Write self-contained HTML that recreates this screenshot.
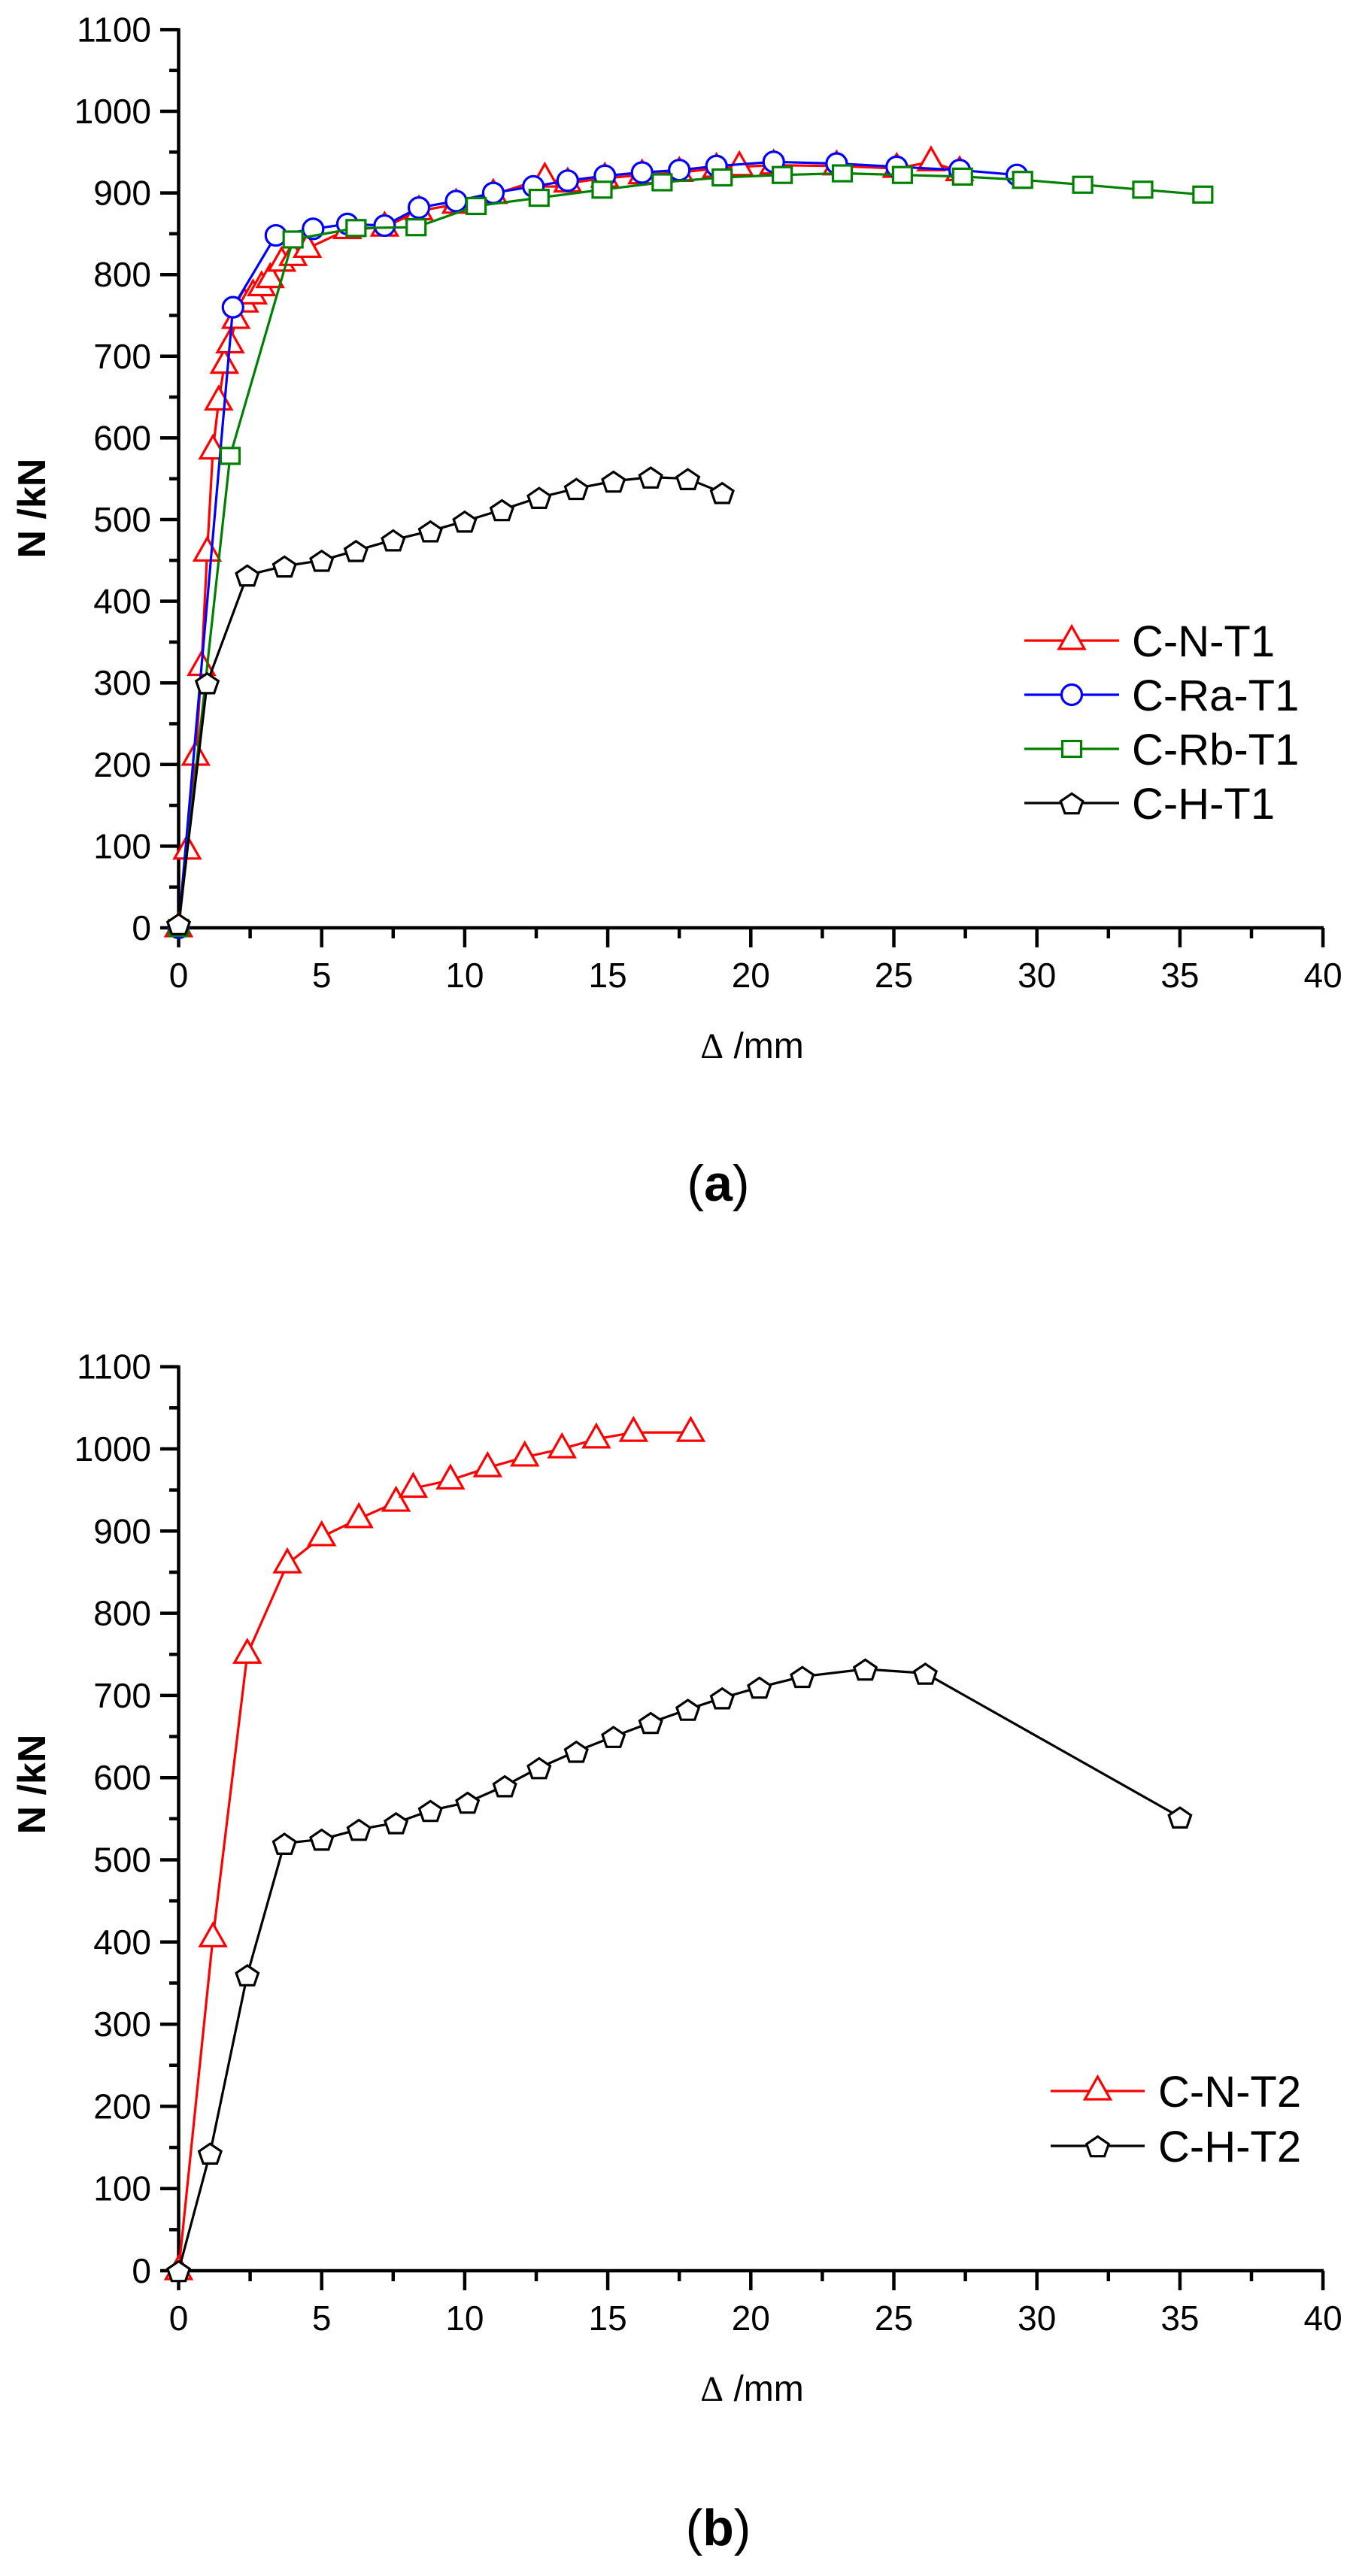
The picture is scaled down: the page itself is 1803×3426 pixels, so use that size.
<!DOCTYPE html>
<html><head><meta charset="utf-8"><style>
html,body{margin:0;padding:0;background:#fff}
svg{display:block}
text{font-family:"Liberation Sans",Arial,sans-serif}
</style></head><body>
<svg id="s" width="1803" height="3426" viewBox="0 0 1803 3426" xmlns="http://www.w3.org/2000/svg">
<rect width="1803" height="3426" fill="#fff"/>
<g id="g"></g>
<text x="1000" y="1407" font-size="48" text-anchor="middle"><tspan font-family="Liberation Serif,serif">Δ</tspan> /mm</text>
<text x="955" y="1597" font-size="68" text-anchor="middle" font-family="Liberation Serif,serif">(<tspan font-weight="bold">a</tspan>)</text>
<text x="1000" y="3193" font-size="48" text-anchor="middle"><tspan font-family="Liberation Serif,serif">Δ</tspan> /mm</text>
<text x="955" y="3385" font-size="68" text-anchor="middle" font-family="Liberation Serif,serif">(<tspan font-weight="bold">b</tspan>)</text>
<text transform="translate(60,676) rotate(-90)" font-size="52" font-weight="bold" text-anchor="middle">N /kN</text>
<text transform="translate(60,2373) rotate(-90)" font-size="52" font-weight="bold" text-anchor="middle">N /kN</text>
</svg>
<script>
var NS="http://www.w3.org/2000/svg",G=document.getElementById("g");
function el(t,a,txt){var e=document.createElementNS(NS,t);for(var k in a)e.setAttribute(k,a[k]);if(txt!=null)e.textContent=txt;G.appendChild(e);return e;}
function X(d){return 237.5+d*38.04;}
function marker(type,cx,cy,col){
 var st={fill:"#fff",stroke:col,"stroke-width":3.2};
 if(type=="tri"){st.points=(cx-17)+","+(cy+11)+" "+(cx+17)+","+(cy+11)+" "+cx+","+(cy-19);el("polygon",st);}
 else if(type=="cir"){st.cx=cx;st.cy=cy;st.r=13.5;el("circle",st);}
 else if(type=="sq"){st.x=cx-12.5;st.y=cy-10.5;st.width=25;st.height=21;el("rect",st);}
 else {var p=[];for(var i=0;i<5;i++){var a=-Math.PI/2+i*2*Math.PI/5;p.push((cx+15.5*Math.cos(a)).toFixed(1)+","+(cy+2+14.5*Math.sin(a)).toFixed(1));}st.points=p.join(" ");el("polygon",st);}
}
function series(data,Y,type,col,lw){
 var pts=data.map(function(p){return X(p[0]).toFixed(1)+","+Y(p[1]).toFixed(1);}).join(" ");
 el("polyline",{points:pts,fill:"none",stroke:col,"stroke-width":lw||3.2,"stroke-linejoin":"round"});
 data.forEach(function(p){marker(type,X(p[0]),Y(p[1]),col);});
}
function axes(y0,k){
 var Y=function(v){return y0-v*k;};
 el("line",{x1:237.5,y1:Y(1100)-2,x2:237.5,y2:y0+2,stroke:"#000","stroke-width":4.5});
 el("line",{x1:235,y1:y0,x2:1760,y2:y0,stroke:"#000","stroke-width":4.5});
 for(var v=0;v<=1100;v+=50){var maj=v%100==0;el("line",{x1:maj?213:225,y1:Y(v),x2:237,y2:Y(v),stroke:"#000","stroke-width":4.5});
  if(maj)el("text",{x:201,y:Y(v)+16,"font-size":46,"text-anchor":"end"},String(v));}
 for(var d=0;d<=40;d+=2.5){var mj=d%5==0;el("line",{x1:X(d),y1:y0,x2:X(d),y2:y0+(mj?26:14),stroke:"#000","stroke-width":4.5});
  if(mj)el("text",{x:X(d),y:y0+79,"font-size":46,"text-anchor":"middle"},String(d));}
 return Y;
}
function legend(x1,x2,tx,rows){
 rows.forEach(function(r){el("line",{x1:x1,y1:r.y,x2:x2,y2:r.y,stroke:r.c,"stroke-width":3.2});marker(r.t,(x1+x2)/2,r.y,r.c);
 el("text",{x:tx,y:r.y+21,"font-size":58},r.l);});
}
// chart a
var Ya=axes(1234,1.086);
series([[0,0],[0.3,95],[0.6,210],[0.8,320],[1.0,460],[1.2,585],[1.4,645],[1.6,690],[1.8,715],[2.0,745],[2.3,765],[2.6,775],[2.9,785],[3.2,795],[3.6,815],[4.0,822],[4.5,832],[5.9,855],[7.2,858],[8.4,878],[9.7,886],[11.0,898],[12.8,918],[13.6,912],[14.9,918],[16.2,922],[17.5,925],[18.8,930],[19.6,932],[20.8,934],[23.0,933],[25.1,930],[26.3,938],[27.3,926]],Ya,"tri","#ff0000");
series([[0,0],[1.9,760],[3.4,848],[4.7,856],[5.9,862],[7.2,860],[8.4,882],[9.7,890],[11.0,900],[12.4,908],[13.6,915],[14.9,921],[16.2,925],[17.5,928],[18.8,933],[20.8,938],[23.0,936],[25.1,932],[27.3,928],[29.3,922]],Ya,"cir","#0000ff");
series([[0,0],[1.8,578],[4.0,843],[6.2,857],[8.3,858],[10.4,884],[12.6,894],[14.8,904],[16.9,913],[19.0,919],[21.1,922],[23.2,924],[25.3,922],[27.4,920],[29.5,916],[31.6,910],[33.7,904],[35.8,898]],Ya,"sq","#008000");
series([[0,5],[1.0,300],[2.4,432],[3.7,443],[5.0,450],[6.2,462],[7.5,475],[8.8,486],[10.0,498],[11.3,512],[12.6,527],[13.9,538],[15.2,547],[16.5,552],[17.8,550],[19.0,533]],Ya,"pen","#000000");
legend(1362,1488,1505,[{y:852,c:"#ff0000",t:"tri",l:"C-N-T1"},{y:924,c:"#0000ff",t:"cir",l:"C-Ra-T1"},{y:996,c:"#008000",t:"sq",l:"C-Rb-T1"},{y:1068,c:"#000000",t:"pen",l:"C-H-T1"}]);
// chart b
var Yb=axes(3020,1.093);
series([[0,0],[1.2,405],[2.4,750],[3.8,860],[5.0,893],[6.3,915],[7.6,935],[8.2,952],[9.5,962],[10.8,977],[12.1,990],[13.4,1000],[14.6,1012],[15.9,1020],[17.9,1020]],Yb,"tri","#ff0000");
series([[0,0],[1.1,143],[2.4,360],[3.7,520],[5.0,525],[6.3,537],[7.6,545],[8.8,560],[10.1,570],[11.4,590],[12.6,612],[13.9,632],[15.2,650],[16.5,667],[17.8,683],[19.0,697],[20.3,710],[21.8,723],[24.0,732],[26.1,727],[35.0,552]],Yb,"pen","#000000");
legend(1397,1522,1540,[{y:2781,c:"#ff0000",t:"tri",l:"C-N-T2"},{y:2854,c:"#000000",t:"pen",l:"C-H-T2"}]);
</script>
</body></html>
